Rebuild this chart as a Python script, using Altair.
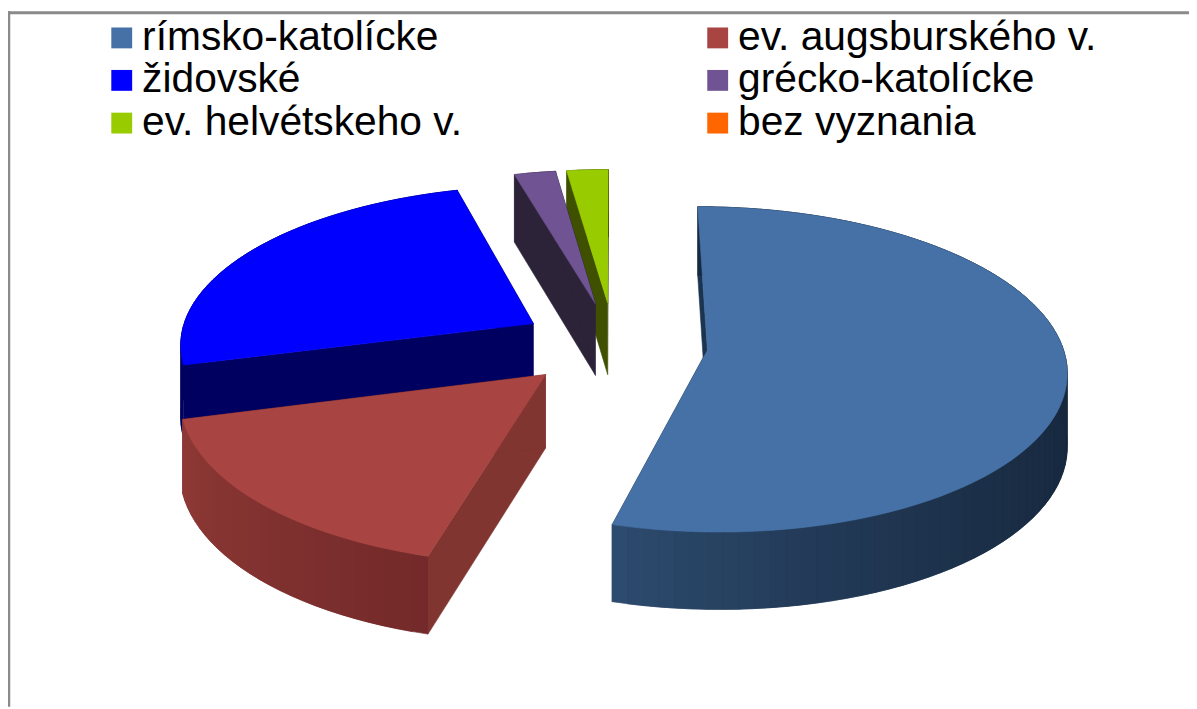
import math
import altair as alt
import pandas as pd

categories = ["rímsko-katolícke", "ev. augsburského v.", "židovské",
              "grécko-katolícke", "ev. helvétskeho v.", "bez vyznania"]
legend_order = ["rímsko-katolícke", "židovské", "ev. helvétskeho v.",
                "ev. augsburského v.", "grécko-katolícke", "bez vyznania"]
shares = [54.3, 16.5, 24.9, 2.15, 2.15, 0.0]
top_colors = ["#4571a6", "#a84442", "#0000ff", "#6f5392", "#99cc00", "#ff6600"]
edge_colors = ["#1b3551", "#813530", "#000060", "#2c2339", "#3f5000", "#803300"]
rim_from = ["#17293f", "#742a2a", "#000060", "#2c2339", "#3f5000", "#803300"]
rim_to = ["#2e4c70", "#8f3a36", "#000060", "#2c2339", "#3f5000", "#803300"]
draw_order = [4, 3, 2, 0, 1]

CX, CY, A, B, KX, KY, KZ, DEPTH, EXPLODE = 618, 344, 357, 160, 0.115, 0.12, 0.06, 73, 0.265


def project(X, Y, z):
    return (CX + A * X / (1 - KX * Y),
            CY + B * Y / (1 - KY * Y) + DEPTH * z / (1 - KZ * Y))


def mix(c1, c2, t):
    a = [int(c1[i:i + 2], 16) for i in (1, 3, 5)]
    b = [int(c2[i:i + 2], 16) for i in (1, 3, 5)]
    return "#%02x%02x%02x" % tuple(round(p + (q - p) * t) for p, q in zip(a, b))


starts = {}
acc = 0.0
for idx, s in enumerate(shares):
    starts[idx] = acc
    acc += s

rows = []
counter = [0, 0]


def add_polygon(points, key):
    counter[0] += 1
    for p in points:
        counter[1] += 1
        rows.append({"x": p[0], "y": p[1], "key": key, "poly": counter[0], "i": counter[1]})


for idx in draw_order:
    t0 = math.radians(starts[idx] * 3.6)
    t1 = math.radians((starts[idx] + shares[idx]) * 3.6)
    mid = (t0 + t1) / 2
    ox, oy = EXPLODE * math.sin(mid), -EXPLODE * math.cos(mid)
    pt = lambda r, t: (ox + r * math.sin(t), oy - r * math.cos(t))
    n = max(4, int(shares[idx] * 1.6))
    angles = [t0 + (t1 - t0) * j / n for j in range(n + 1)]

    # radial side walls
    for t in (t0, t1):
        X0, Y0 = pt(0, t)
        X1, Y1 = pt(1, t)
        add_polygon([project(X0, Y0, 0), project(X1, Y1, 0), project(X1, Y1, 1), project(X0, Y0, 1)],
                    edge_colors[idx])
    # outer rim: every band runs on under the next one, so no seams show
    sequence = list(range(n))
    if idx == 0:
        sequence = sequence[::-1]
    for j in sequence:
        a0 = angles[j]
        if idx == 0:
            u = max(0.0, (a0 - math.pi / 2) / (t1 - math.pi / 2))
            col = mix(rim_from[0], rim_to[0], u ** 2)
            band = angles[max(0, j - 1):j + 2]
        else:
            u = j / n
            col = mix(rim_from[idx], rim_to[idx], u)
            band = angles[j:j + 3]
        front = [project(*pt(1, a), 0) for a in band]
        back = [project(*pt(1, a), 1) for a in band[::-1]]
        add_polygon(front + back, col)
    # top face
    add_polygon([project(*pt(0, t0), 0)] + [project(*pt(1, a), 0) for a in angles], categories[idx])

data = pd.DataFrame(rows)
shades = sorted(set(data["key"]) - set(categories))
domain = categories + shades
colors = top_colors + shades
scale = alt.Scale(domain=domain, range=colors)

pie = alt.Chart(data).mark_line(filled=True, strokeWidth=0.6, interpolate="linear").encode(
    x=alt.X("x:Q", scale=alt.Scale(domain=[8, 1197], nice=False, zero=False), axis=None),
    y=alt.Y("y:Q", scale=alt.Scale(domain=[709, 8], nice=False, zero=False), axis=None),
    color=alt.Color(
        "key:N", scale=scale, sort=domain,
        legend=alt.Legend(
            title=None, values=legend_order, orient="none", legendX=94, legendY=7,
            columns=2, symbolType="square", symbolSize=441, symbolStrokeWidth=0,
            labelFont="Liberation Sans", labelFontSize=41, labelColor="#000000",
            labelOffset=0, labelLimit=500, columnPadding=236, rowPadding=1,
            symbolOpacity=1,
        ),
    ),
    stroke=alt.Stroke("key:N", scale=scale, sort=domain, legend=None),
    detail="poly:N",
    order=alt.Order("i:Q"),
)

frame_top = alt.Chart(pd.DataFrame({"v": [0]})).mark_rule(color="#8a8a8a", strokeWidth=3).encode(
    x=alt.value(0), x2=alt.value(1189), y=alt.value(2.5))
frame_left = alt.Chart(pd.DataFrame({"v": [0]})).mark_rule(color="#8a8a8a", strokeWidth=2.5).encode(
    x=alt.value(1), y=alt.value(1), y2=alt.value(701))

chart = alt.layer(pie, frame_top, frame_left).properties(
    width=1189, height=701, padding=0, autosize=alt.AutoSizeParams(type="none"),
).configure_view(stroke=None)

chart.save("out.html", embed_options={"renderer": "svg", "actions": False})
